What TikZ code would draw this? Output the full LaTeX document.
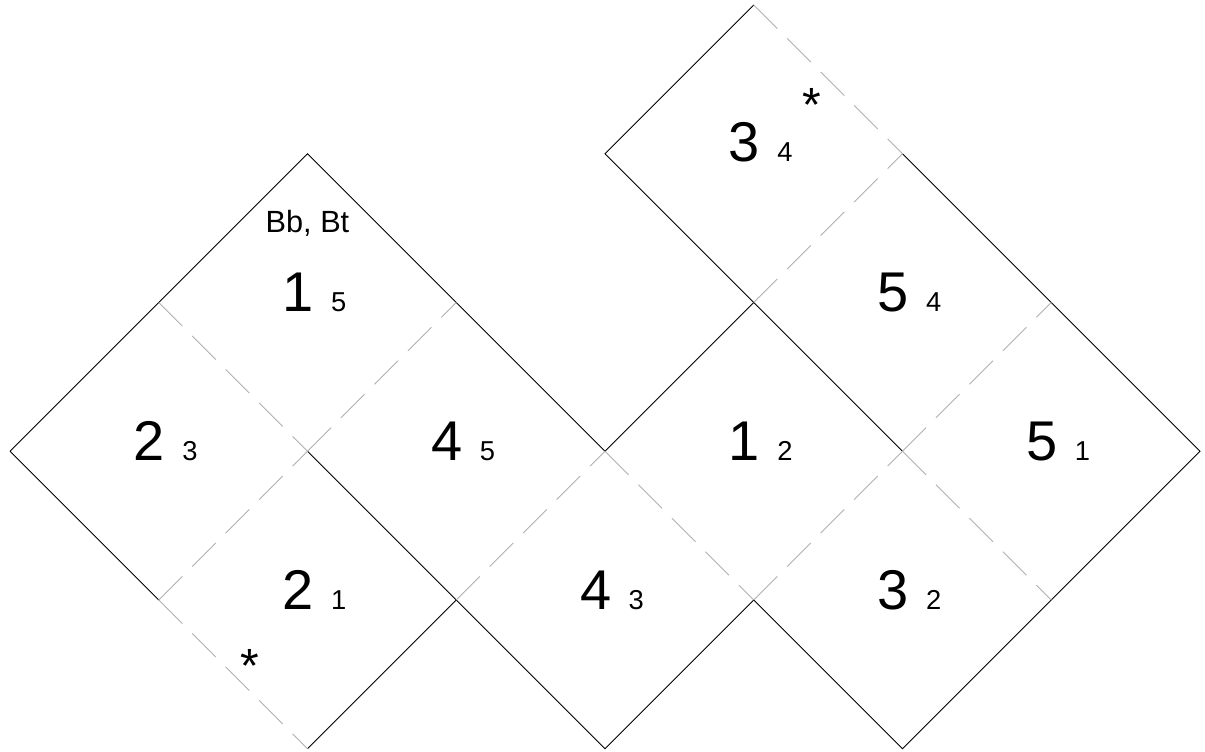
\documentclass[tikz,border=0pt]{standalone}
\usepackage{fontspec}
\setmainfont{Liberation Sans}
\usepackage{xcolor}
\newcommand{\facelabel}[2]{{\fontsize{42}{42}\selectfont #1}\hspace{13pt}{\fontsize{20.5}{20.5}\selectfont #2}}

\begin{document}
\begin{tikzpicture}[x=0.75pt,y=0.75pt,yscale=-1,xscale=1,
  cut/.style={color={rgb, 255:red, 0; green, 0; blue, 0 }, line width=0.75, line join=miter},
  fold/.style={color={rgb, 255:red, 175; green, 175; blue, 175 }, line width=0.75, dash pattern=on 25pt off 10.5pt},
  face/.style={anchor=base, inner sep=0pt},
  starmark/.style={anchor=base, inner sep=0pt, font=\fontsize{36}{36}\selectfont}]
\useasboundingbox (0,0) rectangle (1205,752);

%Straight Lines (outline, left block)
\draw [cut]   (10,451.25) -- (307.5,153.75) -- (605,451.25) ;
\draw [cut]   (10,451.25) -- (158.75,600) ;
\draw [cut]   (307.5,748.75) -- (456.25,600) ;
%Straight Lines (outline, lower run)
\draw [cut]   (307.5,451.25) -- (456.25,600) -- (605,748.75) -- (753.75,600) -- (902.5,748.75) -- (1051.25,600) -- (1200,451.25) -- (1051.25,302.5) -- (902.5,153.75) ;
%Straight Lines (outline, upper block)
\draw [cut]   (753.75,5) -- (605,153.75) -- (753.75,302.5) -- (902.5,451.25) ;
\draw [cut]   (605,451.25) -- (753.75,302.5) ;

%Straight Lines (folds)
\draw [fold]   (158.75,302.5) -- (307.5,451.25) ;
\draw [fold]   (307.5,451.25) -- (456.25,302.5) ;
\draw [fold]   (158.75,600) -- (307.5,451.25) ;
\draw [fold]   (158.75,600) -- (307.5,748.75) ;
\draw [fold]   (456.25,600) -- (605,451.25) ;
\draw [fold]   (605,451.25) -- (753.75,600) ;
\draw [fold]   (753.75,600) -- (902.5,451.25) ;
\draw [fold]   (902.5,451.25) -- (1051.25,600) ;
\draw [fold]   (902.5,451.25) -- (1051.25,302.5) ;
\draw [fold]   (753.75,302.5) -- (902.5,153.75) ;
\draw [fold]   (753.75,5) -- (902.5,153.75) ;

% Text Node
\node (faceOneFive) [face] at (314.5,311.5) {\facelabel{1}{5}};
% Text Node
\node (faceTwoThree) [face] at (165.75,460.25) {\facelabel{2}{3}};
% Text Node
\node (faceFourFive) [face] at (463.25,460.25) {\facelabel{4}{5}};
% Text Node
\node (faceTwoOne) [face] at (314.5,609) {\facelabel{2}{1}};
% Text Node
\node (faceFourThree) [face] at (612,609) {\facelabel{4}{3}};
% Text Node
\node (faceOneTwo) [face] at (760.75,460.25) {\facelabel{1}{2}};
% Text Node
\node (faceThreeTwo) [face] at (909.5,609) {\facelabel{3}{2}};
% Text Node
\node (faceFiveOne) [face] at (1058.25,460.25) {\facelabel{5}{1}};
% Text Node
\node (faceFiveFour) [face] at (909.5,311.5) {\facelabel{5}{4}};
% Text Node
\node (faceThreeFour) [face] at (760.75,161.75) {\facelabel{3}{4}};
% Text Node
\node (topnote) [face, font=\fontsize{23}{23}\selectfont] at (307.5,233) {Bb, Bt};
% Text Node
\node (starlow) [starmark] at (250,682.6) {*};
% Text Node
\node (starhigh) [starmark] at (812,121.6) {*};

\end{tikzpicture}
\end{document}
